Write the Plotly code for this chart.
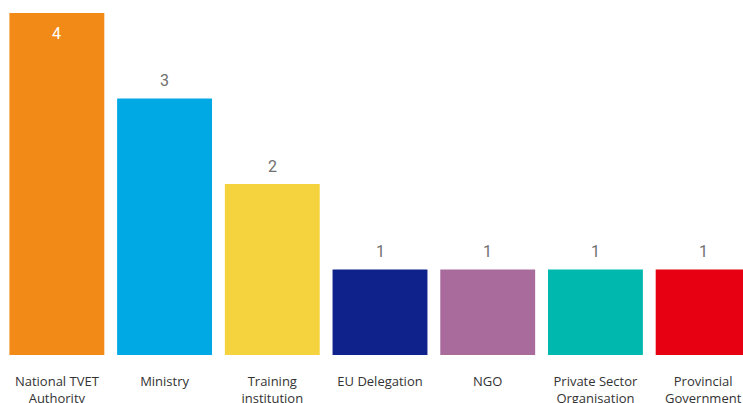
import plotly.graph_objects as go

categories = ["National TVET<br>Authority", "Ministry", "Training<br>institution", "EU Delegation",
              "NGO", "Private Sector<br>Organisation", "Provincial<br>Government"]
values = [4, 3, 2, 1, 1, 1, 1]
colors = ["#F28A17", "#00A9E3", "#F5D33F", "#0F218B", "#A86B9B", "#00B8AD", "#E60011"]

fig = go.Figure()
fig.add_trace(go.Bar(
    x=list(range(len(categories))), y=values,
    marker=dict(color=colors, line=dict(width=0)),
    hoverinfo="skip",
))

for i, v in enumerate(values):
    inside = v == max(values)
    fig.add_annotation(
        x=i, y=v, xref="x", yref="y", text=str(v), showarrow=False,
        yshift=-20 if inside else 18,
        font=dict(family="Roboto", size=16, color="#FFFFFF" if inside else "#707070"),
    )

fig.update_layout(
    width=743, height=403,
    margin=dict(l=3, r=0, t=13, b=48, autoexpand=False),
    paper_bgcolor="white", plot_bgcolor="white",
    bargap=0.119,
    showlegend=False,
    xaxis=dict(
        range=[-0.5, 6.37], automargin=False,
        tickmode="array", tickvals=list(range(len(categories))), ticktext=categories,
        showgrid=False, zeroline=False, showline=False,
        ticks="", ticklabelstandoff=17,
        tickfont=dict(family="Open Sans", size=13, color="#333333"),
    ),
    yaxis=dict(range=[0, 4], visible=False, showgrid=False, zeroline=False, automargin=False),
)

fig.write_html(
    "out.html",
    config={"displayModeBar": False},
    post_script="document.body.style.margin='0';document.body.style.overflow='hidden';",
)
